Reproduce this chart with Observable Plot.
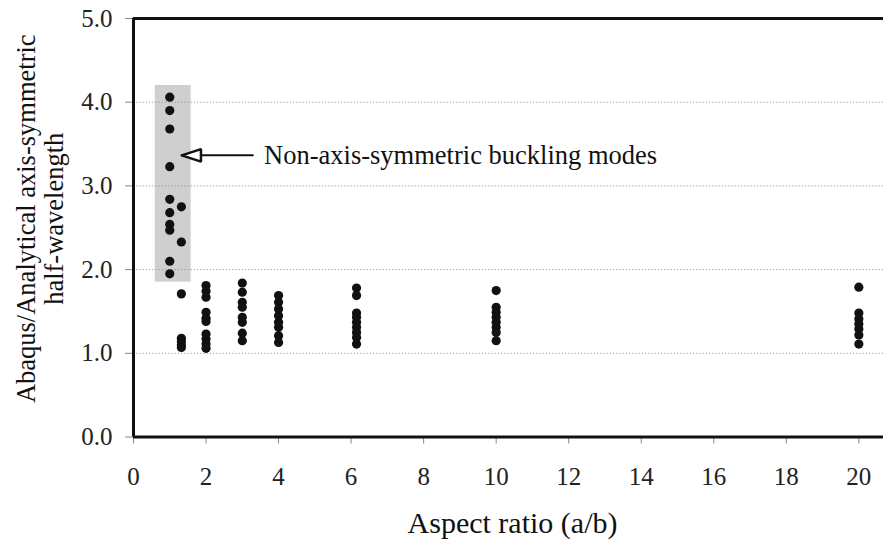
<!DOCTYPE html>
<html><head><meta charset="utf-8">
<script src="https://cdn.jsdelivr.net/npm/d3@7"></script>
<script src="https://cdn.jsdelivr.net/npm/@observablehq/plot@0.6"></script>
<style>body{margin:0;background:#fff;} svg{display:block;} svg text{font-family:'Liberation Serif','Times New Roman',serif;}</style>
</head><body><div id="chart"></div>
<script>
// Aspect ratio groups (a/b) and Abaqus/Analytical ratios
const aspectRatios = [1, 1.32, 2, 3, 4, 6.15, 10, 20];
const valuesAR1    = [4.06, 3.90, 3.68, 3.23, 2.84, 2.68, 2.54, 2.47, 2.10, 1.95];
const valuesAR1_3  = [2.75, 2.33, 1.71, 1.18, 1.14, 1.10, 1.07];
const valuesAR2    = [1.81, 1.74, 1.67, 1.49, 1.42, 1.38, 1.23, 1.17, 1.11, 1.06];
const valuesAR3    = [1.84, 1.73, 1.61, 1.55, 1.43, 1.37, 1.24, 1.15];
const valuesAR4    = [1.69, 1.61, 1.53, 1.45, 1.37, 1.31, 1.21, 1.13];
const valuesAR6    = [1.78, 1.69, 1.48, 1.43, 1.37, 1.31, 1.25, 1.19, 1.11];
const valuesAR10   = [1.75, 1.55, 1.49, 1.43, 1.37, 1.31, 1.25, 1.15];
const valuesAR20   = [1.79, 1.48, 1.41, 1.35, 1.29, 1.22, 1.11];
const groupValues = [valuesAR1, valuesAR1_3, valuesAR2, valuesAR3, valuesAR4, valuesAR6, valuesAR10, valuesAR20];

const xTicks = [0, 2, 4, 6, 8, 10, 12, 14, 16, 18, 20];
const yTicks = [0, 1, 2, 3, 4, 5];
const gridY = [1, 2, 3, 4];

// highlighted region (non-axis-symmetric modes)
const highlightX = [0.6, 1.59];
const highlightY = [1.85, 4.2];
const annotationText = "Non-axis-symmetric buckling modes";
const arrowShaft = [[1.86, 3.365], [3.29, 3.365]];
const arrowHead = [[1.331, 3.365], [1.86, 3.44], [1.86, 3.29], [1.331, 3.365]];
const annotationPos = [3.6, 3.365];

const points = aspectRatios.flatMap((a, i) => groupValues[i].map(v => ({ar: a, v})));

const serif = "'Liberation Serif', 'Times New Roman', serif";

const chart = Plot.plot({
  width: 883,
  height: 544,
  marginLeft: 133,
  marginRight: 0,
  marginTop: 18,
  marginBottom: 107.5,
  style: {fontFamily: serif, background: "#fff", overflow: "visible"},
  x: {domain: [0, 20.68]},
  y: {domain: [0, 5]},
  marks: [
    Plot.rect([0], {x1: highlightX[0], x2: highlightX[1], y1: highlightY[0], y2: highlightY[1], fill: "#cfcfcf"}),
    Plot.ruleY(gridY, {stroke: "#999", strokeDasharray: "1.2,2", strokeWidth: 1}),
    Plot.axisY(yTicks, {tickSize: 8, tickPadding: 13, tickFormat: d3.format(".1f"), fontSize: 25, fontFamily: serif, stroke: "#888", fill: "#222", label: null}),
    Plot.axisX(xTicks, {tickSize: 7, tickPadding: 23.5, fontSize: 25, fontFamily: serif, stroke: "#888", fill: "#222", label: null, anchor: "bottom"}),
    Plot.ruleX([0], {stroke: "#111", strokeWidth: 3}),
    Plot.ruleY([0, 5], {stroke: "#111", strokeWidth: 3}),
    Plot.dot(points, {x: "ar", y: "v", r: 4.6, fill: "#111"}),
    Plot.line(arrowShaft, {x: d => d[0], y: d => d[1], stroke: "#111", strokeWidth: 2}),
    Plot.line(arrowHead, {x: d => d[0], y: d => d[1], stroke: "#111", strokeWidth: 2.5, fill: "#fff", strokeLinejoin: "miter"}),
    Plot.text([annotationText], {x: annotationPos[0], y: annotationPos[1], text: d => d, textAnchor: "start", fontSize: 26.5, fontFamily: serif, fill: "#111"}),
    Plot.text(["Aspect ratio (a/b)"], {frameAnchor: "bottom", dx: 4, dy: 86.5, lineAnchor: "middle", text: d => d, fontSize: 30, fontFamily: serif, fill: "#111"}),
    Plot.text(["Abaqus/Analytical axis-symmetric\nhalf-wavelength"], {frameAnchor: "left", dx: -93.7, dy: -9, rotate: -90, textAnchor: "middle", lineAnchor: "middle", text: d => d, fontSize: 26.5, fontFamily: serif, lineHeight: 1.06, fill: "#111"})
  ]
});
document.getElementById("chart").appendChild(chart);
</script>
</body></html>
